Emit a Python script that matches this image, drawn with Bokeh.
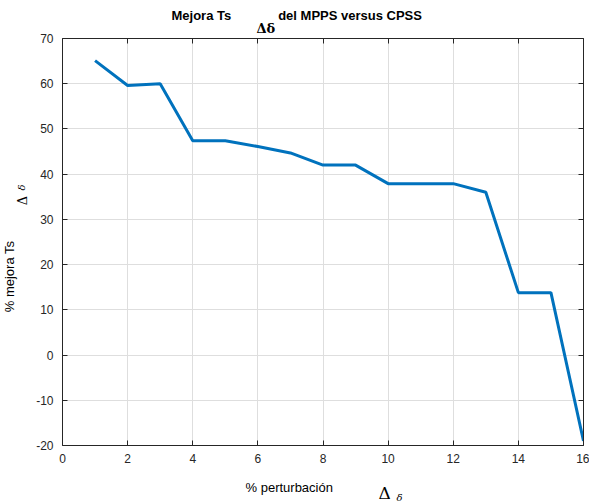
import math
from bokeh.plotting import figure
from bokeh.models import Range1d, LinearAxis, Label, FixedTicker
from bokeh.embed import file_html
from bokeh.resources import INLINE

perturbacion = [1, 2, 3, 4, 5, 6, 7, 8, 9, 10, 11, 12, 13, 14, 15, 16]
mejora_ts = [65.1, 59.6, 60.0, 47.4, 47.4, 46.1, 44.7, 42.0, 42.0, 37.9, 37.9, 37.9, 36.0, 13.8, 13.8, -19.0]
x_ticks = [0, 2, 4, 6, 8, 10, 12, 14, 16]
y_ticks = [-20, -10, 0, 10, 20, 30, 40, 50, 60, 70]

W, H = 589, 502
FL, FR, FT, FB = 62, 584, 38, 445
p = figure(width=W, height=H, output_backend="svg", toolbar_location=None,
           x_range=Range1d(0, 16), y_range=Range1d(-20, 70),
           min_border_left=FL, min_border_right=W - FR, min_border_top=FT, min_border_bottom=H - FB,
           x_axis_location=None, y_axis_location=None)
p.outline_line_color = None
p.background_fill_color = "white"
p.border_fill_color = "white"

axc = "#262626"
font = "Liberation Sans"

def style(ax, ticks, labels=True):
    ax.axis_line_color = axc
    ax.axis_line_width = 1
    ax.major_tick_in = 5
    ax.major_tick_out = 0
    ax.minor_tick_in = 0
    ax.minor_tick_out = 0
    ax.major_tick_line_color = axc
    ax.major_label_text_font = font
    ax.major_label_text_font_size = "12px"
    ax.major_label_text_color = axc
    ax.major_label_standoff = 8
    ax.major_label_overrides = {t: str(t) for t in ticks}
    if not labels:
        ax.major_label_text_font_size = "0px"
        ax.major_label_text_alpha = 0
        ax.major_label_standoff = 0

xb = LinearAxis(ticker=FixedTicker(ticks=x_ticks)); style(xb, x_ticks)
xt = LinearAxis(ticker=FixedTicker(ticks=x_ticks)); style(xt, x_ticks, False)
yl = LinearAxis(ticker=FixedTicker(ticks=y_ticks)); style(yl, y_ticks)
yr = LinearAxis(ticker=FixedTicker(ticks=y_ticks)); style(yr, y_ticks, False)
yl.major_label_standoff = 9
p.add_layout(xb, "below")
p.add_layout(xt, "above")
p.add_layout(yl, "left")
p.add_layout(yr, "right")

p.xgrid.ticker = FixedTicker(ticks=x_ticks)
p.ygrid.ticker = FixedTicker(ticks=y_ticks)
for g in (p.xgrid, p.ygrid):
    g.grid_line_color = "#dedede"
    g.grid_line_width = 1

p.line(perturbacion, mejora_ts, line_color="#0072BD", line_width=3)

NB = "\u00a0"

def lab(place, x, y, text, size="12px", style="normal", fnt=font, angle=0, align="left", base="alphabetic"):
    # canvas units: pixels from the canvas top-left corner
    p.add_layout(Label(x=x, y=y, x_units="canvas", y_units="canvas", text=text,
                       text_font=fnt, text_font_size=size, text_font_style=style,
                       text_color="black", angle=angle, text_align=align, text_baseline=base), place)

lab("above", 171, 15, "Mejora Ts" + NB * 13 + "del MPPS versus CPSS", "13px", "bold")
lab("above", 256, 28, "Δδ", "13px", "bold", "DejaVu Serif")
lab("above", 21, 187, "δ", "10px", "italic", "DejaVu Serif", angle=math.pi/2, align="center", base="middle")

lab("below", 245, 487, "% perturbación", "13px")
lab("below", 378, 492, "Δ", "17px", "normal", "DejaVu Serif")
lab("right", 396, 497, "δ", "10px", "italic", "DejaVu Serif")

lab("left", 9, 276, "% mejora Ts", "13px", angle=math.pi/2, align="center", base="middle")
lab("left", 22, 200, "Δ", "13px", "normal", "DejaVu Serif", angle=math.pi/2, align="center", base="middle")

open("out.html", "w").write(file_html(p, INLINE))
